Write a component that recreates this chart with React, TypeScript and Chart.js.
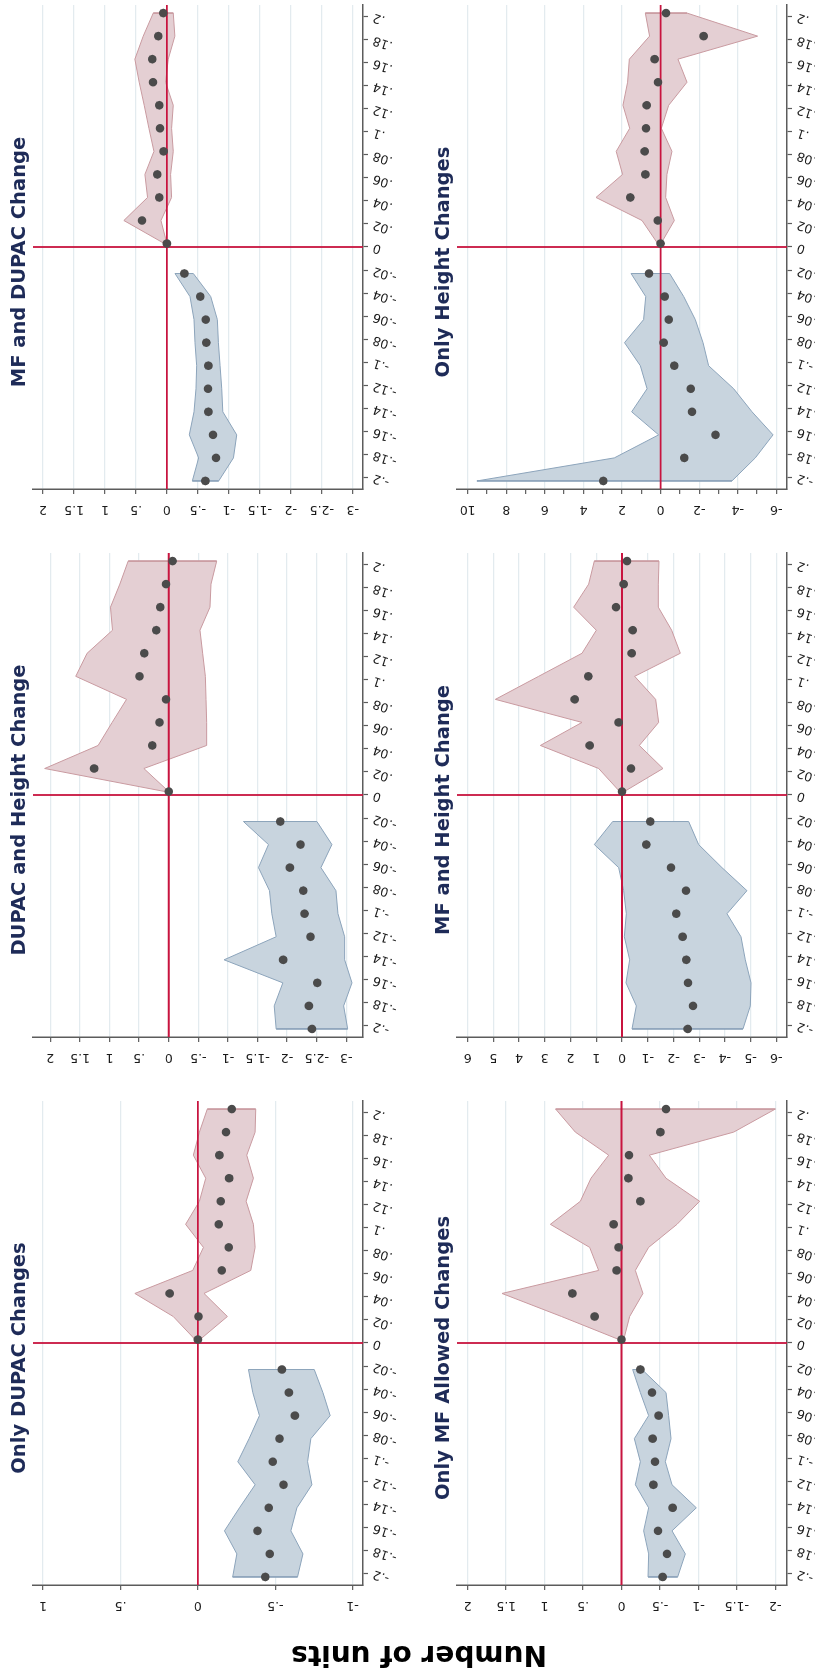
import React, { useEffect, useRef } from 'react';
import { Chart, registerables } from 'chart.js';

Chart.register(...registerables);

const FONT = '"DejaVu Sans", sans-serif';

// ---------- shared categories ----------
const BINS_POS = [0, 0.02, 0.04, 0.06, 0.08, 0.1, 0.12, 0.14, 0.16, 0.18, 0.2];
const BINS_NEG = [-0.02, -0.04, -0.06, -0.08, -0.1, -0.12, -0.14, -0.16, -0.18, -0.2];
const X_TICKS = [-0.2, -0.18, -0.16, -0.14, -0.12, -0.1, -0.08, -0.06, -0.04, -0.02, 0, 0.02, 0.04, 0.06, 0.08, 0.1, 0.12, 0.14, 0.16, 0.18, 0.2];
const POS_SHIFT = 0.003;
const NEG_SHIFT = -0.003;

// ---------- y tick labels ----------
const Y_TICKS_DUPAC_ONLY = [-1, -0.5, 0, 0.5, 1];
const Y_TICKS_DUPAC_HEIGHT = [-3, -2.5, -2, -1.5, -1, -0.5, 0, 0.5, 1, 1.5, 2];
const Y_TICKS_MF_DUPAC = [-3, -2.5, -2, -1.5, -1, -0.5, 0, 0.5, 1, 1.5, 2];
const Y_TICKS_MF_ONLY = [-2, -1.5, -1, -0.5, 0, 0.5, 1, 1.5, 2];
const Y_TICKS_MF_HEIGHT = [-6, -5, -4, -3, -2, -1, 0, 1, 2, 3, 4, 5, 6];
const Y_TICKS_HEIGHT_ONLY = [-6, -5, -4, -3, -2, -1, 0, 1, 2, 3, 4, 5, 6, 7, 8, 9, 10];

// ---------- Only DUPAC Changes ----------
const DUPAC_ONLY_POS_EST = [0, -0.004, 0.182, -0.154, -0.2, -0.135, -0.148, -0.202, -0.139, -0.182, -0.219];
const DUPAC_ONLY_POS_HI = [0.018, 0.159, 0.407, 0.033, -0.036, 0.079, -0.01, -0.051, 0.029, -0.01, -0.061];
const DUPAC_ONLY_POS_LO = [-0.014, -0.191, -0.04, -0.342, -0.37, -0.359, -0.312, -0.359, -0.316, -0.37, -0.374];
const DUPAC_ONLY_NEG_EST = [-0.543, -0.588, -0.627, -0.528, -0.484, -0.553, -0.458, -0.385, -0.465, -0.435];
const DUPAC_ONLY_NEG_HI = [-0.327, -0.355, -0.398, -0.331, -0.258, -0.37, -0.269, -0.172, -0.252, -0.225];
const DUPAC_ONLY_NEG_LO = [-0.752, -0.808, -0.855, -0.73, -0.709, -0.737, -0.64, -0.601, -0.679, -0.644];

// ---------- DUPAC and Height Change ----------
const DUPAC_HEIGHT_POS_EST = [0, 1.261, 0.279, 0.155, 0.047, 0.493, 0.414, 0.211, 0.143, 0.047, -0.065];
const DUPAC_HEIGHT_POS_HI = [0.064, 2.096, 1.193, 0.956, 0.713, 1.571, 1.379, 0.95, 0.984, 0.826, 0.685];
const DUPAC_HEIGHT_POS_LO = [0, 0.42, -0.641, -0.641, -0.63, -0.619, -0.573, -0.528, -0.697, -0.714, -0.81];
const DUPAC_HEIGHT_NEG_EST = [-1.883, -2.227, -2.046, -2.272, -2.295, -2.396, -1.933, -2.509, -2.368, -2.419];
const DUPAC_HEIGHT_NEG_HI = [-1.262, -1.685, -1.516, -1.702, -1.742, -1.815, -0.935, -1.928, -1.782, -1.815];
const DUPAC_HEIGHT_NEG_LO = [-2.503, -2.757, -2.571, -2.825, -2.859, -2.972, -2.972, -3.096, -2.955, -3.023];

// ---------- MF and DUPAC Change ----------
const MF_DUPAC_POS_EST = [0, 0.403, 0.123, 0.155, 0.053, 0.112, 0.123, 0.225, 0.236, 0.139, 0.058];
const MF_DUPAC_POS_HI = [0.04, 0.695, 0.312, 0.355, 0.209, 0.29, 0.366, 0.447, 0.517, 0.382, 0.22];
const MF_DUPAC_POS_LO = [0, 0.096, -0.076, -0.06, -0.103, -0.076, -0.103, 0.021, -0.022, -0.129, -0.103];
const MF_DUPAC_NEG_EST = [-0.282, -0.54, -0.627, -0.637, -0.67, -0.665, -0.67, -0.745, -0.794, -0.621];
const MF_DUPAC_NEG_HI = [-0.131, -0.373, -0.438, -0.454, -0.481, -0.47, -0.438, -0.362, -0.513, -0.411];
const MF_DUPAC_NEG_LO = [-0.427, -0.708, -0.815, -0.832, -0.859, -0.886, -0.903, -1.128, -1.075, -0.837];

// ---------- Only MF Allowed Changes ----------
const MF_ONLY_POS_EST = [0, 0.349, 0.639, 0.063, 0.037, 0.102, -0.245, -0.089, -0.098, -0.505, -0.579];
const MF_ONLY_POS_HI = [0.032, 0.78, 1.554, 0.297, 0.414, 0.925, 0.535, 0.397, 0.167, 0.6, 0.856];
const MF_ONLY_POS_LO = [-0.029, -0.106, -0.279, -0.18, -0.353, -0.722, -1.016, -0.579, -0.362, -1.458, -2.0];
const MF_ONLY_NEG_EST = [-0.245, -0.397, -0.483, -0.405, -0.436, -0.414, -0.665, -0.475, -0.592, -0.535];
const MF_ONLY_NEG_HI = [-0.145, -0.245, -0.353, -0.167, -0.245, -0.18, -0.353, -0.288, -0.353, -0.345];
const MF_ONLY_NEG_LO = [-0.267, -0.579, -0.613, -0.644, -0.57, -0.657, -0.973, -0.657, -0.83, -0.73];

// ---------- MF and Height Change ----------
const MF_HEIGHT_POS_EST = [0, -0.35, 1.257, 0.13, 1.84, 1.309, -0.376, -0.415, 0.233, -0.065, -0.194];
const MF_HEIGHT_POS_HI = [0.09, 0.907, 3.175, 1.555, 4.924, 3.24, 1.555, 0.998, 1.879, 1.296, 1.076];
const MF_HEIGHT_POS_LO = [-0.09, -1.594, -0.674, -1.425, -1.308, -0.492, -2.268, -1.931, -1.412, -1.412, -1.438];
const MF_HEIGHT_NEG_EST = [-1.101, -0.946, -1.905, -2.488, -2.112, -2.358, -2.501, -2.565, -2.76, -2.553];
const MF_HEIGHT_NEG_HI = [0.363, 1.076, 0.13, -0.065, -0.168, -0.091, -0.298, -0.155, -0.557, -0.389];
const MF_HEIGHT_NEG_LO = [-2.591, -2.98, -3.887, -4.859, -4.082, -4.626, -4.794, -5.015, -4.989, -4.704];

// ---------- Only Height Changes ----------
const HEIGHT_ONLY_POS_EST = [0, 0.15, 1.568, 0.79, 0.825, 0.756, 0.721, 0.134, 0.307, -2.233, -0.283];
const HEIGHT_ONLY_POS_HI = [0.15, 0.963, 3.348, 1.97, 2.3, 1.6, 1.95, 1.71, 1.62, 0.57, 0.79];
const HEIGHT_ONLY_POS_LO = [-0.02, -0.713, -0.263, -0.33, -0.59, -0.04, -0.42, -1.37, -0.9, -5.03, -1.37];
const HEIGHT_ONLY_NEG_EST = [0.6, -0.21, -0.42, -0.16, -0.71, -1.56, -1.63, -2.85, -1.23, 2.97];
const HEIGHT_ONLY_NEG_HI = [1.53, 0.77, 0.88, 1.87, 1.05, 0.7, 1.5, 0.1, 2.4, 9.52];
const HEIGHT_ONLY_NEG_LO = [-0.47, -1.2, -1.8, -2.2, -2.49, -3.79, -4.74, -5.83, -4.91, -3.7];

// ---------- styles ----------
const AXIS = '#5c5c5c';
const GRID = '#e3ebef';
const ZERO = '#c8143f';
const POINT = '#4b4b4b';
const RED_FILL = '#e4cfd3';
const RED_EDGE = '#c99aa0';
const BLUE_FILL = '#c8d4de';
const BLUE_EDGE = '#8ca4bb';
const TITLE = '#1e2b58';
const TEXT = '#1a1a1a';

// layout in the landscape (unrotated) frame
const COL_LEFT = [91, 639, 1187];
const ROW_TOP = [33, 457];
const AREA_W = 484;
const AREA_H = 330;
const PAD_L = 55;
const PAD_T = 20;
const PAD_R = 4;
const PAD_B = 40;
const TICK_LEN = 5;
const Y_LABEL_OFFSET = 20.5;
const TICK_FONT = 12.5;
const X_LABEL_ANGLE = 72;
const POINT_R = 4.3;
const X_MIN = -0.21;
const X_MAX = 0.21;

type PanelDef = {
  title: string;
  col: number;
  row: number;
  yMin: number;
  yMax: number;
  yTicks: number[];
  labelStep: number;
  posEst: number[];
  posHi: number[];
  posLo: number[];
  negEst: number[];
  negHi: number[];
  negLo: number[];
};

const PANELS: PanelDef[] = [
  { title: 'Only DUPAC Changes', col: 0, row: 0, yMin: -1.067, yMax: 1.065, yTicks: Y_TICKS_DUPAC_ONLY, labelStep: 0,
    posEst: DUPAC_ONLY_POS_EST, posHi: DUPAC_ONLY_POS_HI, posLo: DUPAC_ONLY_POS_LO,
    negEst: DUPAC_ONLY_NEG_EST, negHi: DUPAC_ONLY_NEG_HI, negLo: DUPAC_ONLY_NEG_LO },
  { title: 'DUPAC and Height Change', col: 1, row: 0, yMin: -3.282, yMax: 2.293, yTicks: Y_TICKS_DUPAC_HEIGHT, labelStep: 0,
    posEst: DUPAC_HEIGHT_POS_EST, posHi: DUPAC_HEIGHT_POS_HI, posLo: DUPAC_HEIGHT_POS_LO,
    negEst: DUPAC_HEIGHT_NEG_EST, negHi: DUPAC_HEIGHT_NEG_HI, negLo: DUPAC_HEIGHT_NEG_LO },
  { title: 'MF and DUPAC Change', col: 2, row: 0, yMin: -3.167, yMax: 2.162, yTicks: Y_TICKS_MF_DUPAC, labelStep: 0,
    posEst: MF_DUPAC_POS_EST, posHi: MF_DUPAC_POS_HI, posLo: MF_DUPAC_POS_LO,
    negEst: MF_DUPAC_NEG_EST, negHi: MF_DUPAC_NEG_HI, negLo: MF_DUPAC_NEG_LO },
  { title: 'Only MF Allowed Changes', col: 0, row: 1, yMin: -2.152, yMax: 2.139, yTicks: Y_TICKS_MF_ONLY, labelStep: 0,
    posEst: MF_ONLY_POS_EST, posHi: MF_ONLY_POS_HI, posLo: MF_ONLY_POS_LO,
    negEst: MF_ONLY_NEG_EST, negHi: MF_ONLY_NEG_HI, negLo: MF_ONLY_NEG_LO },
  { title: 'MF and Height Change', col: 1, row: 1, yMin: -6.415, yMax: 6.415, yTicks: Y_TICKS_MF_HEIGHT, labelStep: 0,
    posEst: MF_HEIGHT_POS_EST, posHi: MF_HEIGHT_POS_HI, posLo: MF_HEIGHT_POS_LO,
    negEst: MF_HEIGHT_NEG_EST, negHi: MF_HEIGHT_NEG_HI, negLo: MF_HEIGHT_NEG_LO },
  { title: 'Only Height Changes', col: 2, row: 1, yMin: -6.553, yMax: 10.553, yTicks: Y_TICKS_HEIGHT_ONLY, labelStep: 2,
    posEst: HEIGHT_ONLY_POS_EST, posHi: HEIGHT_ONLY_POS_HI, posLo: HEIGHT_ONLY_POS_LO,
    negEst: HEIGHT_ONLY_NEG_EST, negHi: HEIGHT_ONLY_NEG_HI, negLo: HEIGHT_ONLY_NEG_LO },
];

function stataLabel(v: number): string {
  const r = Math.round(v * 1000) / 1000;
  if (r === 0) return '0';
  const abs = String(Math.abs(r)).replace(/^0\./, '.');
  return (r < 0 ? '-' : '') + abs;
}

function isLabelled(def: PanelDef, v: number): boolean {
  if (!def.labelStep) return true;
  return Math.abs(Math.round(v) % def.labelStep) === 0;
}

let measureCtx: CanvasRenderingContext2D | null = null;
function textWidth(s: string): number {
  if (!measureCtx) measureCtx = document.createElement('canvas').getContext('2d');
  measureCtx!.font = `${TICK_FONT}px ${FONT}`;
  return measureCtx!.measureText(s).width;
}

function Panel({ def }: { def: PanelDef }) {
  const ref = useRef<HTMLCanvasElement>(null);
  const width = AREA_W + PAD_L + PAD_R;
  const height = AREA_H + PAD_T + PAD_B;

  useEffect(() => {
    const canvas = ref.current;
    if (!canvas) return;
    const toPts = (bins: number[], shift: number, ys: number[]) => bins.map((b, i) => ({ x: b + shift, y: ys[i] }));
    const polygon = (bins: number[], shift: number, hi: number[], lo: number[]) => {
      const up = toPts(bins, shift, hi);
      const down = toPts(bins, shift, lo).reverse();
      return [...up, ...down, up[0]];
    };
    const label = (v: number) => (isLabelled(def, v) ? stataLabel(v) : '');
    const widest = Math.max(...def.yTicks.map((v) => textWidth(label(v))));
    const yPad = Y_LABEL_OFFSET - TICK_LEN - widest / 2;

    const chart = new Chart(canvas, {
      type: 'line',
      data: {
        datasets: [
          { data: toPts(BINS_POS, POS_SHIFT, def.posEst), showLine: false, pointRadius: POINT_R, pointBackgroundColor: POINT, pointBorderWidth: 0, pointBorderColor: POINT },
          { data: toPts(BINS_NEG, NEG_SHIFT, def.negEst), showLine: false, pointRadius: POINT_R, pointBackgroundColor: POINT, pointBorderWidth: 0, pointBorderColor: POINT },
          { data: [{ x: X_MIN, y: 0 }, { x: X_MAX, y: 0 }], borderColor: ZERO, borderWidth: 1.8, pointRadius: 0, fill: false },
          { data: [{ x: 0, y: def.yMin }, { x: 0, y: def.yMax }], borderColor: ZERO, borderWidth: 1.8, pointRadius: 0, fill: false },
          { data: polygon(BINS_POS, POS_SHIFT, def.posHi, def.posLo), borderColor: RED_EDGE, backgroundColor: RED_FILL, borderWidth: 1, pointRadius: 0, fill: 'shape', tension: 0 },
          { data: polygon(BINS_NEG, NEG_SHIFT, def.negHi, def.negLo), borderColor: BLUE_EDGE, backgroundColor: BLUE_FILL, borderWidth: 1, pointRadius: 0, fill: 'shape', tension: 0 },
        ] as any,
      },
      options: {
        responsive: false,
        animation: false,
        devicePixelRatio: 1,
        events: [],
        layout: { padding: { top: PAD_T, right: PAD_R, left: 0, bottom: 0 }, autoPadding: false } as any,
        plugins: { legend: { display: false }, tooltip: { enabled: false }, title: { display: false } },
        scales: {
          x: {
            type: 'linear',
            min: X_MIN,
            max: X_MAX,
            afterBuildTicks: (s: any) => { s.ticks = X_TICKS.map((v) => ({ value: v })); },
            afterFit: (s: any) => { s.height = PAD_B; s.paddingLeft = 0; s.paddingRight = 0; },
            ticks: {
              autoSkip: false,
              minRotation: X_LABEL_ANGLE,
              maxRotation: X_LABEL_ANGLE,
              padding: 3,
              color: TEXT,
              font: { family: FONT, size: TICK_FONT },
              callback: (v: any) => stataLabel(Number(v)),
            },
            grid: { drawOnChartArea: false, drawTicks: true, tickLength: TICK_LEN, tickColor: AXIS, tickWidth: 1.2 },
            border: { display: true, color: AXIS, width: 1.5 },
          },
          y: {
            type: 'linear',
            min: def.yMin,
            max: def.yMax,
            afterBuildTicks: (s: any) => { s.ticks = def.yTicks.map((v) => ({ value: v })); },
            afterFit: (s: any) => { s.width = PAD_L; s.paddingTop = 0; s.paddingBottom = 0; },
            ticks: {
              autoSkip: false,
              minRotation: 90,
              maxRotation: 90,
              crossAlign: 'center',
              padding: yPad,
              color: TEXT,
              font: { family: FONT, size: TICK_FONT },
              callback: (v: any) => label(Number(v)),
            },
            grid: {
              drawOnChartArea: true,
              drawTicks: true,
              tickLength: TICK_LEN,
              tickColor: AXIS,
              tickWidth: 1.2,
              lineWidth: 1.3,
              color: (ctx: any) => (ctx.tick && isLabelled(def, ctx.tick.value) ? GRID : 'rgba(0,0,0,0)'),
            },
            border: { display: true, color: AXIS, width: 1.5 },
          },
        },
      } as any,
    });
    return () => chart.destroy();
  }, [def]);

  return (
    <canvas
      ref={ref}
      width={width}
      height={height}
      style={{
        position: 'absolute',
        left: COL_LEFT[def.col] - PAD_L,
        top: ROW_TOP[def.row] - PAD_T,
        width,
        height,
      }}
    />
  );
}

function PanelTitle({ def }: { def: PanelDef }) {
  return (
    <div
      style={{
        position: 'absolute',
        left: COL_LEFT[def.col] + AREA_W / 2 - 15 - 250,
        top: ROW_TOP[def.row] - 24,
        width: 500,
        textAlign: 'center',
        fontFamily: FONT,
        fontWeight: 'bold',
        fontSize: 19.5,
        lineHeight: 1,
        color: TITLE,
        whiteSpace: 'nowrap',
      }}
    >
      {def.title}
    </div>
  );
}

export default function App() {
  useEffect(() => {
    document.body.style.margin = '0';
    document.body.style.overflow = 'hidden';
  }, []);

  return (
    <div style={{ position: 'absolute', left: 0, top: 0, width: 815, height: 1676, overflow: 'hidden', background: '#ffffff' }}>
      <div
        style={{
          position: 'absolute',
          left: 0,
          top: 0,
          width: 1676,
          height: 815,
          overflow: 'hidden',
          background: '#ffffff',
          transformOrigin: '0 0',
          transform: 'translateY(1676px) rotate(-90deg)',
        }}
      >
        {PANELS.map((p) => (
          <Panel key={p.title} def={p} />
        ))}
        {PANELS.map((p) => (
          <PanelTitle key={'t-' + p.title} def={p} />
        ))}
        <div
          style={{
            position: 'absolute',
            left: 21 - 200,
            top: 419 - 20,
            width: 400,
            height: 40,
            lineHeight: '40px',
            textAlign: 'center',
            fontFamily: FONT,
            fontWeight: 'bold',
            fontSize: 28,
            color: '#000000',
            whiteSpace: 'nowrap',
            transform: 'rotate(-90deg)',
          }}
        >
          Number of units
        </div>
      </div>
    </div>
  );
}
